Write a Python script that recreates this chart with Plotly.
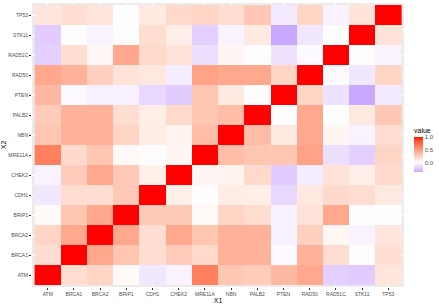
import plotly.graph_objects as go

genes = ["ATM", "BRCA1", "BRCA2", "BRIP1", "CDH1", "CHEK2", "MRE11A", "NBN",
         "PALB2", "PTEN", "RAD50", "RAD51C", "STK11", "TP53"]

# lower-triangle correlation values (row gene vs earlier genes)
lower_BRCA1 = [0.18]
lower_BRCA2 = [0.22, 0.45]
lower_BRIP1 = [0.03, 0.30, 0.45]
lower_CDH1 = [-0.10, 0.18, 0.18, 0.28]
lower_CHEK2 = [-0.05, 0.27, 0.45, 0.28, 0.08]
lower_MRE11A = [0.65, 0.20, 0.30, 0.03, 0.00, 0.05]
lower_NBN = [0.30, 0.40, 0.40, 0.22, 0.10, 0.06, 0.35]
lower_PALB2 = [0.27, 0.40, 0.40, 0.18, 0.09, 0.20, 0.30, 0.35]
lower_PTEN = [0.37, -0.02, -0.06, -0.06, -0.17, -0.22, 0.30, 0.11, 0.00]
lower_RAD50 = [0.45, 0.40, 0.25, 0.15, 0.12, -0.08, 0.48, 0.45, 0.45, 0.22]
lower_RAD51C = [-0.20, 0.18, 0.04, 0.45, 0.20, 0.15, -0.13, 0.05, 0.00, -0.12, -0.02]
lower_STK11 = [-0.22, 0.00, -0.05, 0.00, 0.18, 0.09, -0.20, -0.05, 0.11, -0.37, -0.10, 0.00]
lower_TP53 = [0.14, 0.17, 0.14, 0.00, 0.11, 0.20, 0.22, 0.18, 0.29, -0.09, 0.22, -0.05, 0.15]

lower = [[], lower_BRCA1, lower_BRCA2, lower_BRIP1, lower_CDH1, lower_CHEK2,
         lower_MRE11A, lower_NBN, lower_PALB2, lower_PTEN, lower_RAD50,
         lower_RAD51C, lower_STK11, lower_TP53]

n = len(genes)
z = [[1.0] * n for _ in range(n)]
for i in range(n):
    for j, v in enumerate(lower[i]):
        z[i][j] = v
        z[j][i] = v

# ---- Lab interpolation like ggplot's scale_fill_gradient2 ----
def _lin(c):
    c = c / 255.0
    return c / 12.92 if c <= 0.04045 else ((c + 0.055) / 1.055) ** 2.4

def _gam(c):
    c = 12.92 * c if c <= 0.0031308 else 1.055 * c ** (1 / 2.4) - 0.055
    return max(0, min(255, round(c * 255)))

Xn, Yn, Zn = 0.95047, 1.0, 1.08883

def rgb2lab(rgb):
    r, g, b = (_lin(c) for c in rgb)
    X = 0.4124 * r + 0.3576 * g + 0.1805 * b
    Y = 0.2126 * r + 0.7152 * g + 0.0722 * b
    Z = 0.0193 * r + 0.1192 * g + 0.9505 * b
    def f(t):
        return t ** (1 / 3) if t > 0.008856 else 7.787 * t + 16 / 116
    fx, fy, fz = f(X / Xn), f(Y / Yn), f(Z / Zn)
    return (116 * fy - 16, 500 * (fx - fy), 200 * (fy - fz))

def lab2rgb(lab):
    L, a, bb = lab
    fy = (L + 16) / 116
    fx = fy + a / 500
    fz = fy - bb / 200
    def finv(t):
        return t ** 3 if t ** 3 > 0.008856 else (t - 16 / 116) / 7.787
    X, Y, Z = Xn * finv(fx), Yn * finv(fy), Zn * finv(fz)
    r = 3.2406 * X - 1.5372 * Y - 0.4986 * Z
    g = -0.9689 * X + 1.8758 * Y + 0.0415 * Z
    b = 0.0557 * X - 0.2040 * Y + 1.0570 * Z
    return (_gam(r), _gam(g), _gam(b))

WHITE = rgb2lab((255, 255, 255))
RED = rgb2lab((255, 0, 0))
BLUE = rgb2lab((0, 0, 255))

def mix(a, b, t):
    return tuple(a[k] + (b[k] - a[k]) * t for k in range(3))

zmin = min(min(row) for row in z)
zmax = max(max(row) for row in z)
scale = []
steps = 40
for k in range(steps + 1):
    p = k / steps
    v = zmin + p * (zmax - zmin)
    lab = mix(WHITE, RED, v) if v >= 0 else mix(WHITE, BLUE, -v)
    r, g, b = lab2rgb(lab)
    scale.append([p, f"rgb({r},{g},{b})"])

fig = go.Figure(go.Heatmap(
    x=genes, y=genes, z=z, zmin=zmin, zmax=zmax, colorscale=scale,
    xgap=0, ygap=0,
    colorbar=dict(
        title=dict(text="value", font=dict(size=7, color="#000000"), side="top"),
        thickness=9, len=47, lenmode="pixels", x=1.027, xanchor="left", xpad=0,
        y=0.488, yanchor="middle", outlinewidth=0,
        tickvals=[0.0, 0.5, 1.0], ticktext=["0.0", "0.5", "1.0"],
        tickfont=dict(size=6, color="#4D4D4D"), ticks="", ypad=0,
    ),
))

axis_common = dict(
    showgrid=True, gridcolor="#FFFFFF", gridwidth=1,
    ticks="outside", ticklen=2, tickcolor="#333333", tickwidth=1,
    tickfont=dict(size=5, family="Liberation Sans, Arial, sans-serif", color="#4D4D4D"),
    zeroline=False, showline=False, range=[-0.6, n - 0.4],
    automargin=False,
)
fig.update_layout(
    width=439, height=305,
    margin=dict(l=32, r=35, t=3, b=18, autoexpand=False),
    paper_bgcolor="#FFFFFF", plot_bgcolor="#EBEBEB",
    font=dict(family="Liberation Sans, Arial, sans-serif"),
    xaxis=dict(axis_common, title=dict(text="X1", font=dict(size=7, color="#000000"), standoff=1)),
    yaxis=dict(axis_common, title=dict(text="X2", font=dict(size=7, color="#000000"), standoff=2)),
)
fig.update_xaxes(type="category", range=[-0.6, n - 0.4])
fig.update_yaxes(type="category", range=[-0.6, n - 0.4])

fig.write_html("out.html", config={"displayModeBar": False},
               post_script="document.body.style.margin='0';")
